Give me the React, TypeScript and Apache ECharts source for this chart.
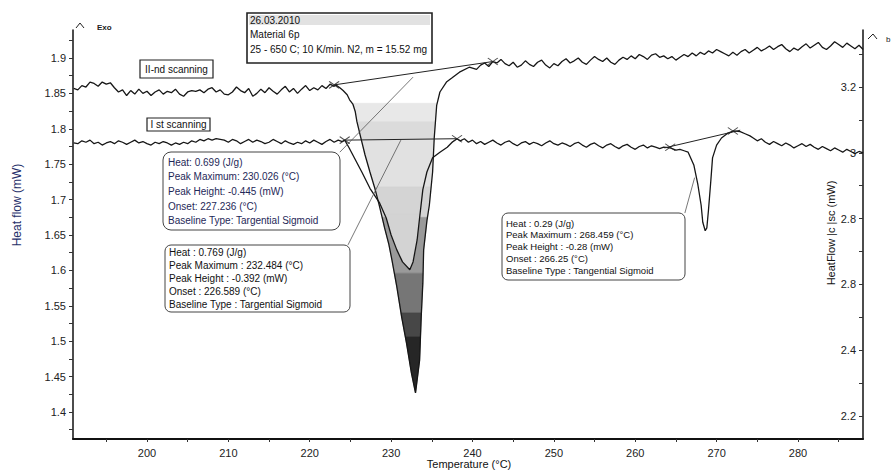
import React, { useEffect, useRef } from "react";
import * as echarts from "echarts";

// ---------- data ----------
// II-nd scanning: left baseline, sampled every 0.5 °C from 191
const scan2LeftStart = 191;
const scan2LeftValues = [
  1.857, 1.855, 1.861, 1.859, 1.866, 1.864, 1.86, 1.866, 1.863, 1.865,
  1.858, 1.852, 1.855, 1.847, 1.854, 1.849, 1.856, 1.85, 1.853, 1.847,
  1.852, 1.855, 1.849, 1.853, 1.851, 1.856, 1.849, 1.846, 1.852, 1.854,
  1.853, 1.855, 1.851, 1.856, 1.858, 1.852, 1.855, 1.849, 1.848, 1.852,
  1.859, 1.854, 1.851, 1.857, 1.846, 1.85, 1.856, 1.851, 1.858, 1.853,
  1.849, 1.855, 1.86, 1.852, 1.857, 1.85, 1.856, 1.861, 1.854, 1.858,
  1.855, 1.861, 1.857, 1.863, 1.86,
];
const scan2Peak: number[][] = [
  [223.2, 1.862], [223.7, 1.858], [224.1, 1.854], [224.6, 1.848], [224.9, 1.841],
  [225.3, 1.835], [225.6, 1.824], [225.8, 1.81], [226.2, 1.791], [226.8, 1.763],
  [227.4, 1.739], [228.0, 1.716], [228.5, 1.694], [228.9, 1.675], [229.2, 1.66],
  [229.7, 1.638], [230.1, 1.615], [230.7, 1.577], [231.3, 1.534], [231.9, 1.497],
  [232.5, 1.455], [233.0, 1.427], [233.5, 1.473], [233.7, 1.534], [233.9, 1.582],
  [234.0, 1.629], [234.4, 1.67], [234.7, 1.692], [235.1, 1.739], [235.3, 1.787],
  [235.6, 1.833], [236.0, 1.852], [236.8, 1.866], [237.5, 1.872], [238.4, 1.88],
  [239.6, 1.887], [240.5, 1.884], [241.0, 1.89], [241.5, 1.893], [242.0, 1.888],
  [242.5, 1.895],
];
const scan2RightStart = 243;
const scan2RightValues = [
  1.893, 1.898, 1.892, 1.889, 1.894, 1.887, 1.89, 1.896, 1.891, 1.888,
  1.894, 1.897, 1.89, 1.886, 1.892, 1.889, 1.895, 1.899, 1.893, 1.896,
  1.9, 1.894, 1.891, 1.897, 1.902, 1.898, 1.895, 1.9, 1.894, 1.891,
  1.897, 1.901, 1.898, 1.903, 1.899, 1.905, 1.902, 1.898, 1.904, 1.906,
  1.901, 1.903, 1.899, 1.902, 1.897, 1.901, 1.905, 1.902, 1.907, 1.903,
  1.908, 1.905, 1.91, 1.907, 1.912, 1.909, 1.906, 1.903, 1.908, 1.904,
  1.909, 1.912, 1.907, 1.911, 1.915, 1.91, 1.913, 1.917, 1.912, 1.916,
  1.919, 1.913, 1.909, 1.914, 1.911, 1.916, 1.92, 1.914, 1.918, 1.922,
  1.915, 1.912, 1.917, 1.923, 1.919, 1.915, 1.921, 1.917, 1.913, 1.918,
  1.912,
];

// I st scanning
const scan1LeftStart = 191;
const scan1LeftValues = [
  1.78, 1.779, 1.783, 1.781, 1.784, 1.779, 1.781, 1.777, 1.78, 1.782,
  1.779, 1.783, 1.781, 1.778, 1.781, 1.784, 1.78, 1.782, 1.779, 1.777,
  1.781, 1.779, 1.782, 1.78, 1.777, 1.78, 1.778, 1.781, 1.779, 1.783,
  1.781, 1.785, 1.783, 1.786, 1.784, 1.786, 1.785, 1.784, 1.781, 1.785,
  1.783, 1.779, 1.782, 1.785, 1.781, 1.784, 1.782, 1.779, 1.781, 1.785,
  1.782, 1.779, 1.783, 1.78, 1.778, 1.781, 1.779, 1.783, 1.78, 1.784,
  1.781, 1.778, 1.782, 1.785, 1.781, 1.784, 1.782,
];
const scan1Peak: number[][] = [
  [224.3, 1.784], [224.8, 1.774], [225.3, 1.763], [226.4, 1.739], [227.4, 1.716],
  [228.6, 1.695], [229.4, 1.674], [230.0, 1.65], [230.7, 1.629], [231.4, 1.612],
  [232.3, 1.601], [232.7, 1.612], [233.2, 1.643], [233.5, 1.674], [233.9, 1.714],
  [234.4, 1.739], [235.1, 1.759], [236.0, 1.767], [236.9, 1.774], [237.5, 1.781],
  [238.1, 1.786],
];
const scan1MidStart = 238.5;
const scan1MidValues = [
  1.783, 1.786, 1.781, 1.784, 1.779, 1.782, 1.778, 1.781, 1.784, 1.78,
  1.777, 1.781, 1.783, 1.779, 1.776, 1.78, 1.782, 1.778, 1.781, 1.779,
  1.776, 1.78, 1.783, 1.779, 1.777, 1.78, 1.778, 1.775, 1.779, 1.781,
  1.777, 1.774, 1.778, 1.78, 1.776, 1.773, 1.777, 1.779, 1.775, 1.772,
  1.776, 1.778, 1.774, 1.771, 1.775, 1.777, 1.773, 1.776, 1.774, 1.772,
];
const scan1SmallPeak: number[][] = [
  [263.5, 1.774], [264.3, 1.773], [265.0, 1.77], [265.5, 1.771], [266.0, 1.769],
  [266.5, 1.767], [267.2, 1.749], [267.7, 1.721], [268.1, 1.692], [268.3, 1.668],
  [268.6, 1.656], [268.8, 1.66], [269.0, 1.685], [269.3, 1.728], [269.5, 1.759],
  [270.0, 1.777], [270.6, 1.787], [271.4, 1.794], [272.1, 1.797], [272.9, 1.796],
  [273.5, 1.793], [274.1, 1.79],
];
const scan1RightStart = 274.5;
const scan1RightValues = [
  1.787, 1.783, 1.786, 1.781, 1.778, 1.782, 1.779, 1.776, 1.78, 1.777,
  1.773, 1.776, 1.779, 1.775, 1.778, 1.774, 1.771, 1.775, 1.772, 1.769,
  1.773, 1.77, 1.767, 1.771, 1.768, 1.765, 1.768, 1.766,
];

// tangent / construction lines
const scan2Baseline = [[223.0, 1.862], [242.5, 1.895]];
const scan1Baseline = [[224.3, 1.784], [238.1, 1.786]];
const smallPeakBaseline = [[263.6, 1.773], [272.9, 1.798]];
const onsetLine1 = [[223.7, 1.767], [232.7, 1.873]];
const onsetLine2 = [[224.7, 1.636], [231.2, 1.784]];
const pointerLine3 = [[266.1, 1.681], [267.3, 1.731]];
const limitMarkers = [
  [223.0, 1.862], [242.5, 1.895], [224.3, 1.784], [238.1, 1.786], [264.3, 1.774], [272.0, 1.797],
];

// fill levels (heat-flow values) of the shaded peak bands
const bandLevels = [1.836, 1.81, 1.784, 1.718, 1.675, 1.596, 1.54, 1.506];
const innerFillLevel = 1.68;

// axes
const xLabelValues = [200, 210, 220, 230, 240, 250, 260, 270, 280];
const xTickValues = [195, 200, 205, 210, 215, 220, 225, 230, 235, 240, 245, 250, 255, 260, 265, 270, 275, 280, 285];
const yLabelValues = [1.4, 1.45, 1.5, 1.55, 1.6, 1.65, 1.7, 1.75, 1.8, 1.85, 1.9];
const yLabelTexts = ["1.4", "1.45", "1.5", "1.55", "1.6", "1.65", "1.7", "1.75", "1.8", "1.85", "1.9"];
const yTickValues = [
  1.375, 1.4, 1.425, 1.45, 1.475, 1.5, 1.525, 1.55, 1.575, 1.6, 1.625, 1.65,
  1.675, 1.7, 1.725, 1.75, 1.775, 1.8, 1.825, 1.85, 1.875, 1.9, 1.925,
];
const y2LabelValues = [2.2, 2.4, 2.6, 2.8, 3.0, 3.2];
const y2LabelTexts = ["2.2", "2.4", "2.8", "2.8", "3", "3.2"];
const y2TickValues = [2.2, 2.3, 2.4, 2.5, 2.6, 2.7, 2.8, 2.9, 3.0, 3.1, 3.2, 3.3];

// styles
const bandColors = ["#e8e8e8", "#dbdbdb", "#e1e1e1", "#d4d4d4", "#9a9a9a", "#767676", "#474747", "#262626"];
const FONT = '"Liberation Sans", Arial, sans-serif';

function clipH(poly: number[][], y0: number, keepBelow: boolean): number[][] {
  const out: number[][] = [];
  const n = poly.length;
  if (n === 0) return out;
  const inside = (p: number[]) => (keepBelow ? p[1] >= y0 : p[1] <= y0);
  const ix = (a: number[], b: number[]) => {
    const t = (y0 - a[1]) / (b[1] - a[1]);
    return [a[0] + t * (b[0] - a[0]), y0];
  };
  for (let i = 0; i < n; i++) {
    const cur = poly[i];
    const prev = poly[(i + n - 1) % n];
    const ci = inside(cur);
    const pi = inside(prev);
    if (ci) {
      if (!pi) out.push(ix(prev, cur));
      out.push(cur);
    } else if (pi) {
      out.push(ix(prev, cur));
    }
  }
  return out;
}

function build(start: number, values: number[]): number[][] {
  return values.map((v, i) => [start + 0.5 * i, v]);
}

export default function App() {
  const ref = useRef<HTMLDivElement>(null);
  useEffect(() => {
    if (!ref.current) return;
    const chart = echarts.init(ref.current, undefined, { renderer: "svg" });

    const scan2 = [...build(scan2LeftStart, scan2LeftValues), ...scan2Peak, ...build(scan2RightStart, scan2RightValues)];
    const scan1 = [
      ...build(scan1LeftStart, scan1LeftValues),
      ...scan1Peak,
      ...build(scan1MidStart, scan1MidValues),
      ...scan1SmallPeak,
      ...build(scan1RightStart, scan1RightValues),
    ];

    const lineSeries = (data: number[][], color: string, width: number, z = 3) => ({
      type: "line",
      data,
      showSymbol: false,
      symbol: "none",
      silent: true,
      z,
      lineStyle: { color, width },
    });

    const txt = (x: number, y: number, text: string, size: number, fill = "#111", extra: any = {}) => ({
      type: "text",
      x,
      y,
      z: 101,
      silent: true,
      style: {
        text,
        font: `${extra.weight || "normal"} ${size}px ${FONT}`,
        fill,
        textAlign: extra.align || "left",
        textVerticalAlign: "middle",
      },
      rotation: extra.rotation || 0,
    });
    const box = (x: number, y: number, w: number, h: number, r: number, lw = 1, stroke = "#333") => ({
      type: "rect",
      z: 100,
      silent: true,
      shape: { x, y, width: w, height: h, r },
      style: { fill: "#fff", stroke, lineWidth: lw },
    });

    const box1Lines = [
      "Heat: 0.699 (J/g)",
      "Peak Maximum: 230.026 (°C)",
      "Peak Height: -0.445 (mW)",
      "Onset: 227.236 (°C)",
      "Baseline Type: Targential Sigmoid",
    ];
    const box2Lines = [
      "Heat : 0.769 (J/g)",
      "Peak Maximum : 232.484 (°C)",
      "Peak Height : -0.392 (mW)",
      "Onset : 226.589 (°C)",
      "Baseline Type : Targential Sigmoid",
    ];
    const box3Lines = [
      "Heat : 0.29 (J/g)",
      "Peak Maximum : 268.459 (°C)",
      "Peak Height : -0.28 (mW)",
      "Onset : 266.25 (°C)",
      "Baseline Type : Tangential Sigmoid",
    ];

    const graphics: any[] = [
      // axis ends
      { type: "polyline", z: 100, shape: { points: [[76, 28], [80, 23], [84, 28]] }, style: { stroke: "#222", fill: "none", lineWidth: 1 } },
      txt(97, 27, "Exo", 8, "#222", { weight: "bold" }),
      { type: "polyline", z: 100, shape: { points: [[868, 39], [873, 34], [877, 39]] }, style: { stroke: "#222", fill: "none", lineWidth: 1 } },
      txt(886, 39, "b", 8, "#222"),
      // axis titles
      txt(17, 205, "Heat flow (mW)", 12, "#27306a", { align: "center", rotation: Math.PI / 2 }),
      txt(831, 233, "HeatFlow |c |sc (mW)", 11, "#111", { align: "center", rotation: Math.PI / 2 }),
      txt(469, 464, "Temperature (°C)", 11, "#111", { align: "center" }),
      // info box
      box(247, 13, 185, 50, 0, 1.6, "#222"),
      { type: "rect", z: 100, silent: true, shape: { x: 249, y: 15, width: 181, height: 10 }, style: { fill: "#e2e2e2" } },
      txt(250, 20, "26.03.2010", 10),
      txt(250, 34, "Material 6p", 10),
      txt(250, 49, "25 - 650 C; 10 K/min. N2, m = 15.52 mg", 10),
      // scan labels
      box(140, 60, 73, 18, 0, 1.2, "#222"),
      txt(176.5, 69, "II-nd scanning", 10, "#111", { align: "center" }),
      box(147, 118, 63, 13, 0, 1.2, "#222"),
      txt(178.5, 124.5, "I st scanning", 10, "#111", { align: "center" }),
      // result boxes
      box(163, 152, 177, 78, 8, 1, "#444"),
      ...box1Lines.map((s, i) => txt(168, 162 + i * 14.7, s, 10, "#1e2858")),
      box(165, 245, 185, 67, 6, 1, "#444"),
      ...box2Lines.map((s, i) => txt(169, 252 + i * 13.2, s, 10, "#111")),
      box(502, 213, 183, 67, 6, 1, "#444"),
      ...box3Lines.map((s, i) => txt(506, 223 + i * 11.8, s, 9.5, "#111")),
    ];

    const option: any = {
      animation: false,
      backgroundColor: "#fff",
      grid: { left: 73, right: 30, top: 30, bottom: 32, containLabel: false },
      xAxis: {
        type: "value",
        min: 190.91,
        max: 287.99,
        splitLine: { show: false },
        axisLine: { show: true, lineStyle: { color: "#111", width: 2 } },
        axisTick: { show: true, customValues: xTickValues, length: 3, lineStyle: { color: "#333" } },
        axisLabel: { customValues: xLabelValues, margin: 8, fontSize: 11, color: "#222", fontFamily: FONT },
      },
      yAxis: [
        {
          type: "value",
          position: "left",
          min: 1.36186,
          max: 1.93955,
          splitLine: { show: false },
          axisLine: { show: true, lineStyle: { color: "#111", width: 1.5 } },
          axisTick: { show: true, customValues: yTickValues, length: 4, lineStyle: { color: "#333" } },
          axisLabel: {
            customValues: yLabelValues,
            margin: 7,
            fontSize: 11,
            color: "#222",
            fontFamily: FONT,
            formatter: (v: number) => {
              const i = yLabelValues.findIndex((x) => Math.abs(x - v) < 1e-6);
              return i >= 0 ? yLabelTexts[i] : "";
            },
          },
        },
        {
          type: "value",
          position: "right",
          min: 2.1301,
          max: 3.3733,
          splitLine: { show: false },
          axisLine: { show: true, lineStyle: { color: "#111", width: 1.5 } },
          axisTick: { show: true, inside: true, customValues: y2TickValues, length: 4, lineStyle: { color: "#333" } },
          axisLabel: {
            inside: true,
            customValues: y2LabelValues,
            margin: 7,
            fontSize: 11,
            color: "#222",
            fontFamily: FONT,
            formatter: (v: number) => {
              const i = y2LabelValues.findIndex((x) => Math.abs(x - v) < 1e-6);
              return i >= 0 ? y2LabelTexts[i] : "";
            },
          },
        },
      ],
      series: [
        {
          type: "custom",
          coordinateSystem: "cartesian2d",
          silent: true,
          z: 1,
          data: [[230, 1.6]],
          encode: { x: 0, y: 1 },
          renderItem: (_params: any, api: any) => {
            const polyA = scan2Peak.filter((p) => p[0] <= 239.7).map((p) => api.coord(p));
            const yLv = bandLevels.map((v) => api.coord([230, v])[1]);
            const children: any[] = [];
            const base = clipH(polyA, yLv[0], true);
            for (let i = 0; i < bandLevels.length; i++) {
              let part = clipH(base, yLv[i], true);
              if (i + 1 < bandLevels.length) part = clipH(part, yLv[i + 1], false);
              if (part.length > 2) {
                children.push({
                  type: "polygon",
                  shape: { points: part },
                  style: { fill: bandColors[i], stroke: bandColors[i], lineWidth: 0.6 },
                });
              }
            }
            const polyB = clipH(scan1Peak.map((p) => api.coord(p)), api.coord([230, innerFillLevel])[1], true);
            if (polyB.length > 2) {
              children.push({ type: "polygon", shape: { points: polyB }, style: { fill: "#d3d3d3", stroke: "#d3d3d3", lineWidth: 0.6 } });
            }
            return { type: "group", children };
          },
        },
        lineSeries(scan2, "#161616", 1.3),
        lineSeries(scan1, "#161616", 1.3),
        lineSeries(scan2Baseline, "#222", 1),
        lineSeries(scan1Baseline, "#222", 1),
        lineSeries(smallPeakBaseline, "#222", 1),
        lineSeries(onsetLine1, "#555", 0.8),
        lineSeries(onsetLine2, "#555", 0.8),
        lineSeries(pointerLine3, "#555", 0.8),
        {
          type: "scatter",
          data: limitMarkers,
          silent: true,
          z: 4,
          symbol: "path://M0,0L10,7M0,7L10,0",
          symbolSize: [10, 7],
          itemStyle: { color: "none", borderColor: "#222", borderWidth: 1 },
        },
      ],
      graphic: graphics,
    };
    chart.setOption(option);
    return () => chart.dispose();
  }, []);

  return <div ref={ref} style={{ position: "absolute", left: 0, top: 0, width: 893, height: 471 }} />;
}
